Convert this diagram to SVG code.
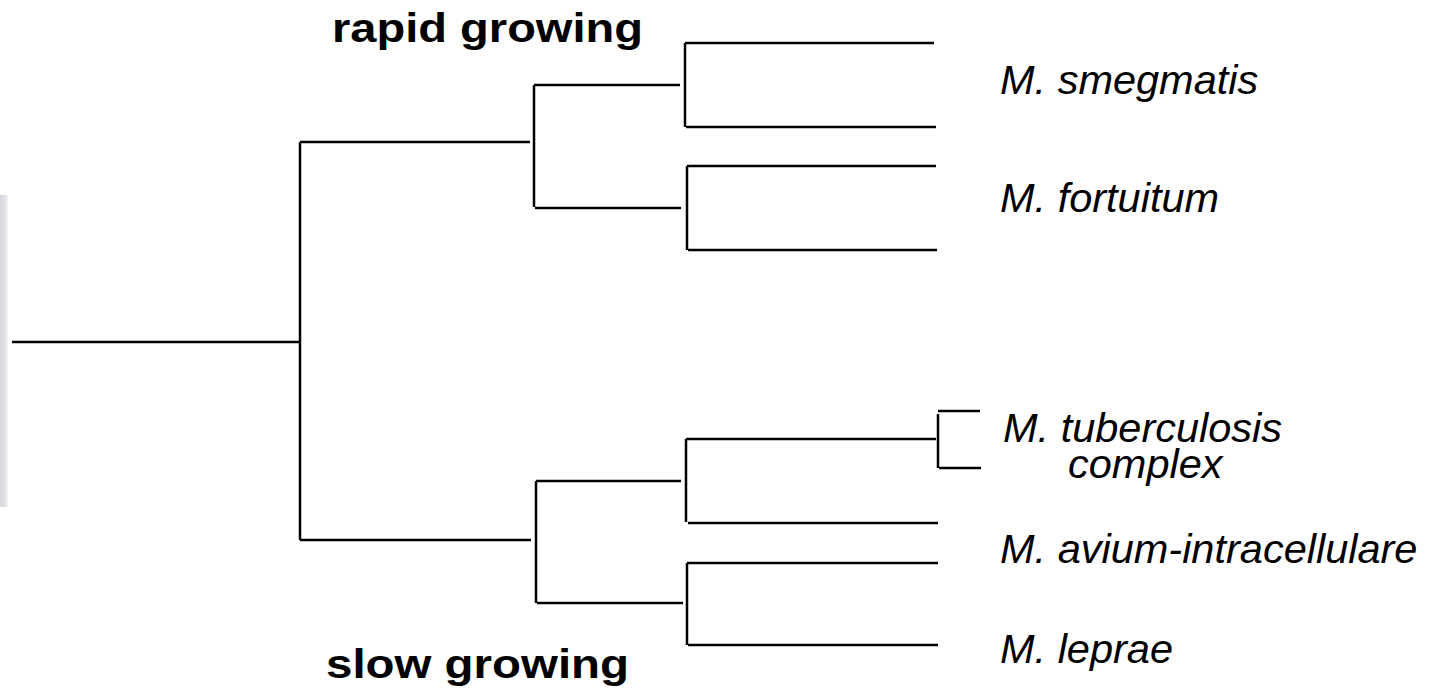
<svg xmlns="http://www.w3.org/2000/svg" width="1443" height="692" viewBox="0 0 1443 692">
<defs>
<linearGradient id="bar" x1="0" y1="0" x2="1" y2="0">
<stop offset="0" stop-color="#d4d6dc"/>
<stop offset="0.7" stop-color="#e2e3e7"/>
<stop offset="1" stop-color="#f6f6f7"/>
</linearGradient>
</defs>
<style>
.e{fill:none;stroke:#000;stroke-width:2.5;stroke-linecap:butt}
.b{font-family:"Liberation Sans",Arial,sans-serif;font-weight:bold;font-size:41px;fill:#000}
.s{font-family:"Liberation Sans",Arial,sans-serif;font-style:italic;font-size:41.5px;fill:#000}
</style>
<rect x="0" y="195" width="8" height="312" fill="url(#bar)"/>
<g id="connectors">
<path class="e" d="M12,342H300M300,142V540M300,142H530M300,540H531"/>
<path class="e" d="M534,85V207M534,85H680M535,208H681"/>
<path class="e" d="M685,43V127M685,43H934M686,127H936"/>
<path class="e" d="M687,166V250M687,166H936M688,250H937"/>
<path class="e" d="M536,481V603M536,481H681M537,603H683"/>
<path class="e" d="M686,439V522M686,439H936M688,523H938"/>
<path class="e" d="M687,563V645M687,563H938M688,645H938"/>
<path class="e" d="M938,414V468M938,411H980M939,468H981"/>
</g>
<g id="label-rapid"><text class="b" x="332" y="42" textLength="311" lengthAdjust="spacingAndGlyphs">rapid growing</text></g>
<g id="label-slow"><text class="b" x="326" y="678" textLength="303" lengthAdjust="spacingAndGlyphs">slow growing</text></g>
<g id="leaf-smegmatis"><text class="s" x="1000" y="94">M. smegmatis</text></g>
<g id="leaf-fortuitum"><text class="s" x="1000" y="212">M. fortuitum</text></g>
<g id="leaf-tuberculosis"><text class="s" x="1003" y="442">M. tuberculosis</text><text class="s" x="1068" y="478">complex</text></g>
<g id="leaf-avium"><text class="s" x="1000" y="563">M. avium-intracellulare</text></g>
<g id="leaf-leprae"><text class="s" x="1000" y="663">M. leprae</text></g>
</svg>
